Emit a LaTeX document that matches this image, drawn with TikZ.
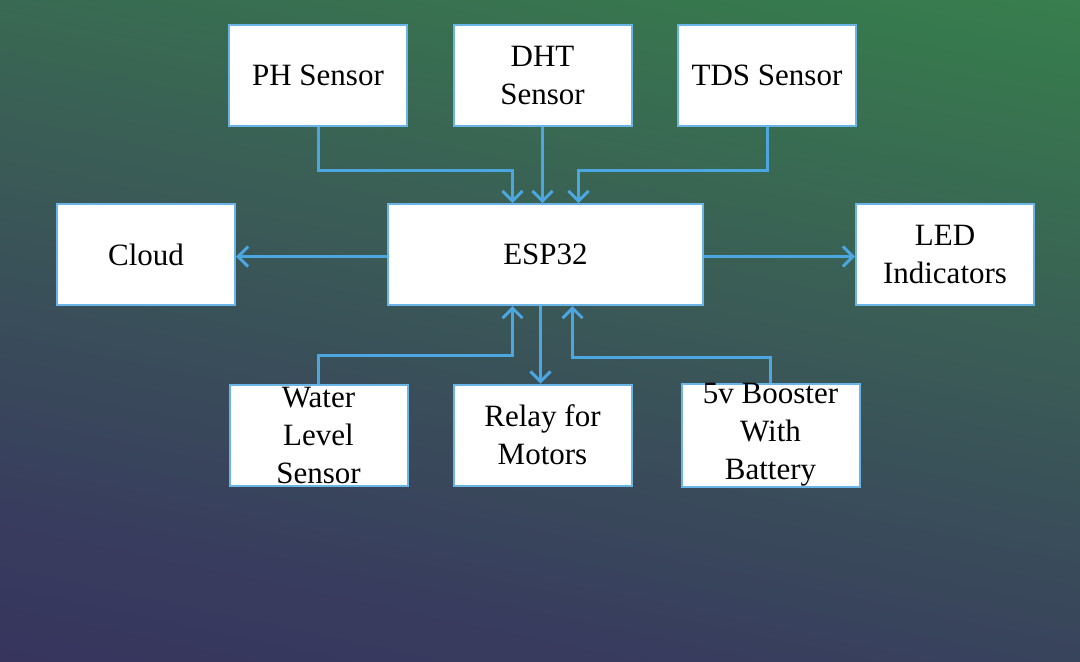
\documentclass[tikz,border=0pt]{standalone}
\usepackage{fontspec}
\setmainfont{Liberation Serif}
\usetikzlibrary{positioning, arrows.meta}
\definecolor{linkblue}{HTML}{4CA6E0}
\definecolor{edgeblue}{HTML}{6AB4E6}
\definecolor{bgA}{HTML}{34265F}
\definecolor{bgB}{HTML}{383C5E}
\definecolor{bgC}{HTML}{3A5C56}
\definecolor{bgD}{HTML}{37784E}
\definecolor{bgE}{HTML}{3C984C}
\pgfdeclareverticalshading{bgshade}{100bp}{color(0bp)=(bgA); color(30bp)=(bgB); color(55bp)=(bgC); color(75bp)=(bgD); color(100bp)=(bgE)}

\begin{document}
\begin{tikzpicture}[
                    x=0.5pt, y=-0.5pt,
                    block/.style={draw=edgeblue, line width=1pt, fill=white, inner sep=0pt,
                                  minimum width=89pt, minimum height=50.5pt, align=center,
                                  font=\fontsize{15.5}{19}\selectfont},
                    link/.style={draw=linkblue, line width=1.5pt,
                                 -{Straight Barb[length=5pt,width=10pt]}}
                ]
                  % background
                  \shade[shading=bgshade, shading angle=-12] (0,0) rectangle (1080,661);
                  \useasboundingbox (0,0) rectangle (1080,661);

                  \node[block] (ph)  at (318,75.5) {PH Sensor};
                  \node[block] (dht) at (542.5,75.5) {DHT\\Sensor};
                  \node[block] (tds) at (767,75.5) {TDS Sensor};

                  \node[block, minimum width=157.5pt] (esp) at (545.5,254.5) {ESP32};
                  \node[block] (cloud) at (146,254.5) {Cloud};
                  \node[block] (led)   at (945,254.5) {LED\\Indicators};

                  \node[block] (water) at (318.5,435) {Water\\Level\\Sensor};
                  \node[block] (relay) at (542.5,435) {Relay for\\Motors};
                  \node[block] (boost) at (770.5,435) {5v Booster\\With\\Battery};

                  \coordinate (phin)  at ([xshift=-16.5pt]esp.north);
                  \coordinate (tdsin) at ([xshift=16.5pt]esp.north);
                  \coordinate (wtin)  at ([xshift=-16.5pt]esp.south);
                  \coordinate (bsin)  at ([xshift=13.5pt]esp.south);

                  \draw[link] (ph.south) |- ([yshift=16.5pt]phin) -- (phin);
                  \draw[link] (dht.south) -- (dht.south |- esp.north);
                  \draw[link] (tds.south) |- ([yshift=16.5pt]tdsin) -- (tdsin);
                  \draw[link] ([yshift=-1pt]esp.west) -- ([yshift=-1pt]cloud.east);
                  \draw[link] ([yshift=-1pt]esp.east) -- ([yshift=-1pt]led.west);
                  \draw[link] (water.north) |- ([yshift=-24.5pt]wtin) -- (wtin);
                  \draw[link] ([xshift=-1pt]relay.north |- esp.south) -- ([xshift=-1pt]relay.north);
                  \draw[link] (boost.north) |- ([yshift=-25.5pt]bsin) -- (bsin);
                \end{tikzpicture}
\end{document}
